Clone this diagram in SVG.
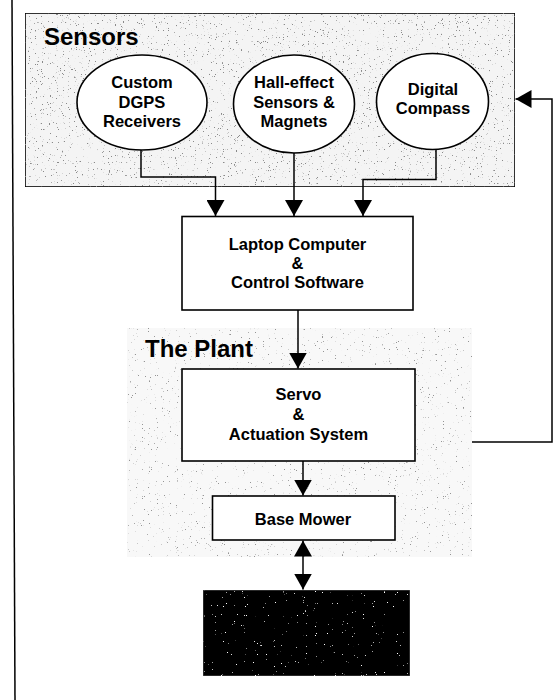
<svg xmlns="http://www.w3.org/2000/svg" width="555" height="700" viewBox="0 0 555 700">
  <style>
    .lbl { font-family: "Liberation Sans", Arial, sans-serif; font-weight: bold; font-size: 16.5px; fill: #000; text-anchor: middle; }
    .title { font-family: "Liberation Sans", Arial, sans-serif; font-weight: bold; font-size: 24px; fill: #000; }
    .box { fill: #fff; stroke: #000; stroke-width: 1.6; }
    .ell { fill: #fff; stroke: #000; stroke-width: 1.6; }
    .wire { fill: none; stroke: #000; stroke-width: 1.5; }
  </style>
  <defs>
    <marker id="arr" viewBox="0 0 16 18" refX="16" refY="9" markerWidth="16" markerHeight="18" markerUnits="userSpaceOnUse" orient="auto-start-reverse">
      <path d="M0,0 L16,9 L0,18 Z" fill="#000"/>
    </marker>
    <filter id="speck" x="0" y="0" width="100%" height="100%">
      <feTurbulence type="fractalNoise" baseFrequency="0.85" numOctaves="2" seed="4" result="n"/>
      <feColorMatrix in="n" type="matrix" values="0 0 0 0 0.25  0 0 0 0 0.25  0 0 0 0 0.25  14 0 0 0 -9.6" result="d"/>
      <feComposite in="d" in2="SourceGraphic" operator="in" result="d2"/>
      <feMerge><feMergeNode in="SourceGraphic"/><feMergeNode in="d2"/></feMerge>
    </filter>
    <filter id="speckLight" x="0" y="0" width="100%" height="100%">
      <feTurbulence type="fractalNoise" baseFrequency="0.85" numOctaves="2" seed="9" result="n"/>
      <feColorMatrix in="n" type="matrix" values="0 0 0 0 0.3  0 0 0 0 0.3  0 0 0 0 0.3  14 0 0 0 -10.0" result="d"/>
      <feComposite in="d" in2="SourceGraphic" operator="in" result="d2"/>
      <feMerge><feMergeNode in="SourceGraphic"/><feMergeNode in="d2"/></feMerge>
    </filter>
    <filter id="speckWhite" x="0" y="0" width="100%" height="100%">
      <feTurbulence type="fractalNoise" baseFrequency="0.9" numOctaves="2" seed="2" result="n"/>
      <feColorMatrix in="n" type="matrix" values="0 0 0 0 1  0 0 0 0 1  0 0 0 0 1  14 0 0 0 -10.6" result="d"/>
      <feComposite in="d" in2="SourceGraphic" operator="in" result="d2"/>
      <feMerge><feMergeNode in="SourceGraphic"/><feMergeNode in="d2"/></feMerge>
    </filter>
  </defs>

  <!-- left border line -->
  <line x1="12" y1="0" x2="15" y2="700" stroke="#000" stroke-width="1.5"/>

  <!-- Sensors group -->
  <g id="sensors">
    <rect x="25" y="13" width="490" height="174" fill="#f4f4f4" stroke="#000" stroke-width="1.6" filter="url(#speck)"/>
    <text class="title" x="44" y="45">Sensors</text>
  </g>

  <!-- The Plant group background -->
  <g id="plant">
    <rect x="127" y="328" width="345" height="229" fill="#f8f8f8" filter="url(#speckLight)"/>
    <text class="title" x="145" y="357">The Plant</text>
  </g>

  <g id="dgps">
    <ellipse class="ell" cx="142" cy="102.5" rx="65" ry="47.5"/>
    <text class="lbl" x="142" y="88">Custom</text>
    <text class="lbl" x="142" y="108">DGPS</text>
    <text class="lbl" x="142" y="127">Receivers</text>
  </g>

  <g id="hall">
    <ellipse class="ell" cx="294" cy="104" rx="60.5" ry="49"/>
    <text class="lbl" x="294" y="88">Hall-effect</text>
    <text class="lbl" x="294" y="108">Sensors &amp;</text>
    <text class="lbl" x="294" y="127">Magnets</text>
  </g>

  <g id="compass">
    <ellipse class="ell" cx="432.5" cy="101.5" rx="56" ry="48"/>
    <text class="lbl" x="433" y="95">Digital</text>
    <text class="lbl" x="433" y="114">Compass</text>
  </g>

  <g id="laptop">
    <rect class="box" x="182" y="216.5" width="231" height="93.5"/>
    <text class="lbl" x="297.5" y="250">Laptop Computer</text>
    <text class="lbl" x="297.5" y="269">&amp;</text>
    <text class="lbl" x="297.5" y="288">Control Software</text>
  </g>

  <g id="servo">
    <rect class="box" x="182" y="369" width="233" height="92"/>
    <text class="lbl" x="298.5" y="400">Servo</text>
    <text class="lbl" x="298.5" y="420">&amp;</text>
    <text class="lbl" x="298.5" y="440">Actuation System</text>
  </g>

  <g id="mower">
    <rect class="box" x="212.5" y="496" width="182.5" height="44"/>
    <text class="lbl" x="303" y="525">Base Mower</text>
  </g>

  <g id="ground">
    <rect x="203" y="590" width="207" height="86" fill="#050505" stroke="#555" stroke-width="1" filter="url(#speckWhite)"/>
  </g>

  <!-- connectors -->
  <g id="connectors">
    <path class="wire" d="M141,150 V177 H215.5 V216" marker-end="url(#arr)"/>
    <path class="wire" d="M294,153 V216" marker-end="url(#arr)"/>
    <path class="wire" d="M436,149.5 V179.5 H363 V216" marker-end="url(#arr)"/>
    <path class="wire" d="M298,310 V368.5" marker-end="url(#arr)"/>
    <path class="wire" d="M303,461 V495.5" marker-end="url(#arr)"/>
    <path class="wire" d="M303,540.5 V589.5" marker-start="url(#arr)" marker-end="url(#arr)"/>
    <path class="wire" d="M472,442 H552 V99 H515.5" marker-end="url(#arr)"/>
  </g>
</svg>
